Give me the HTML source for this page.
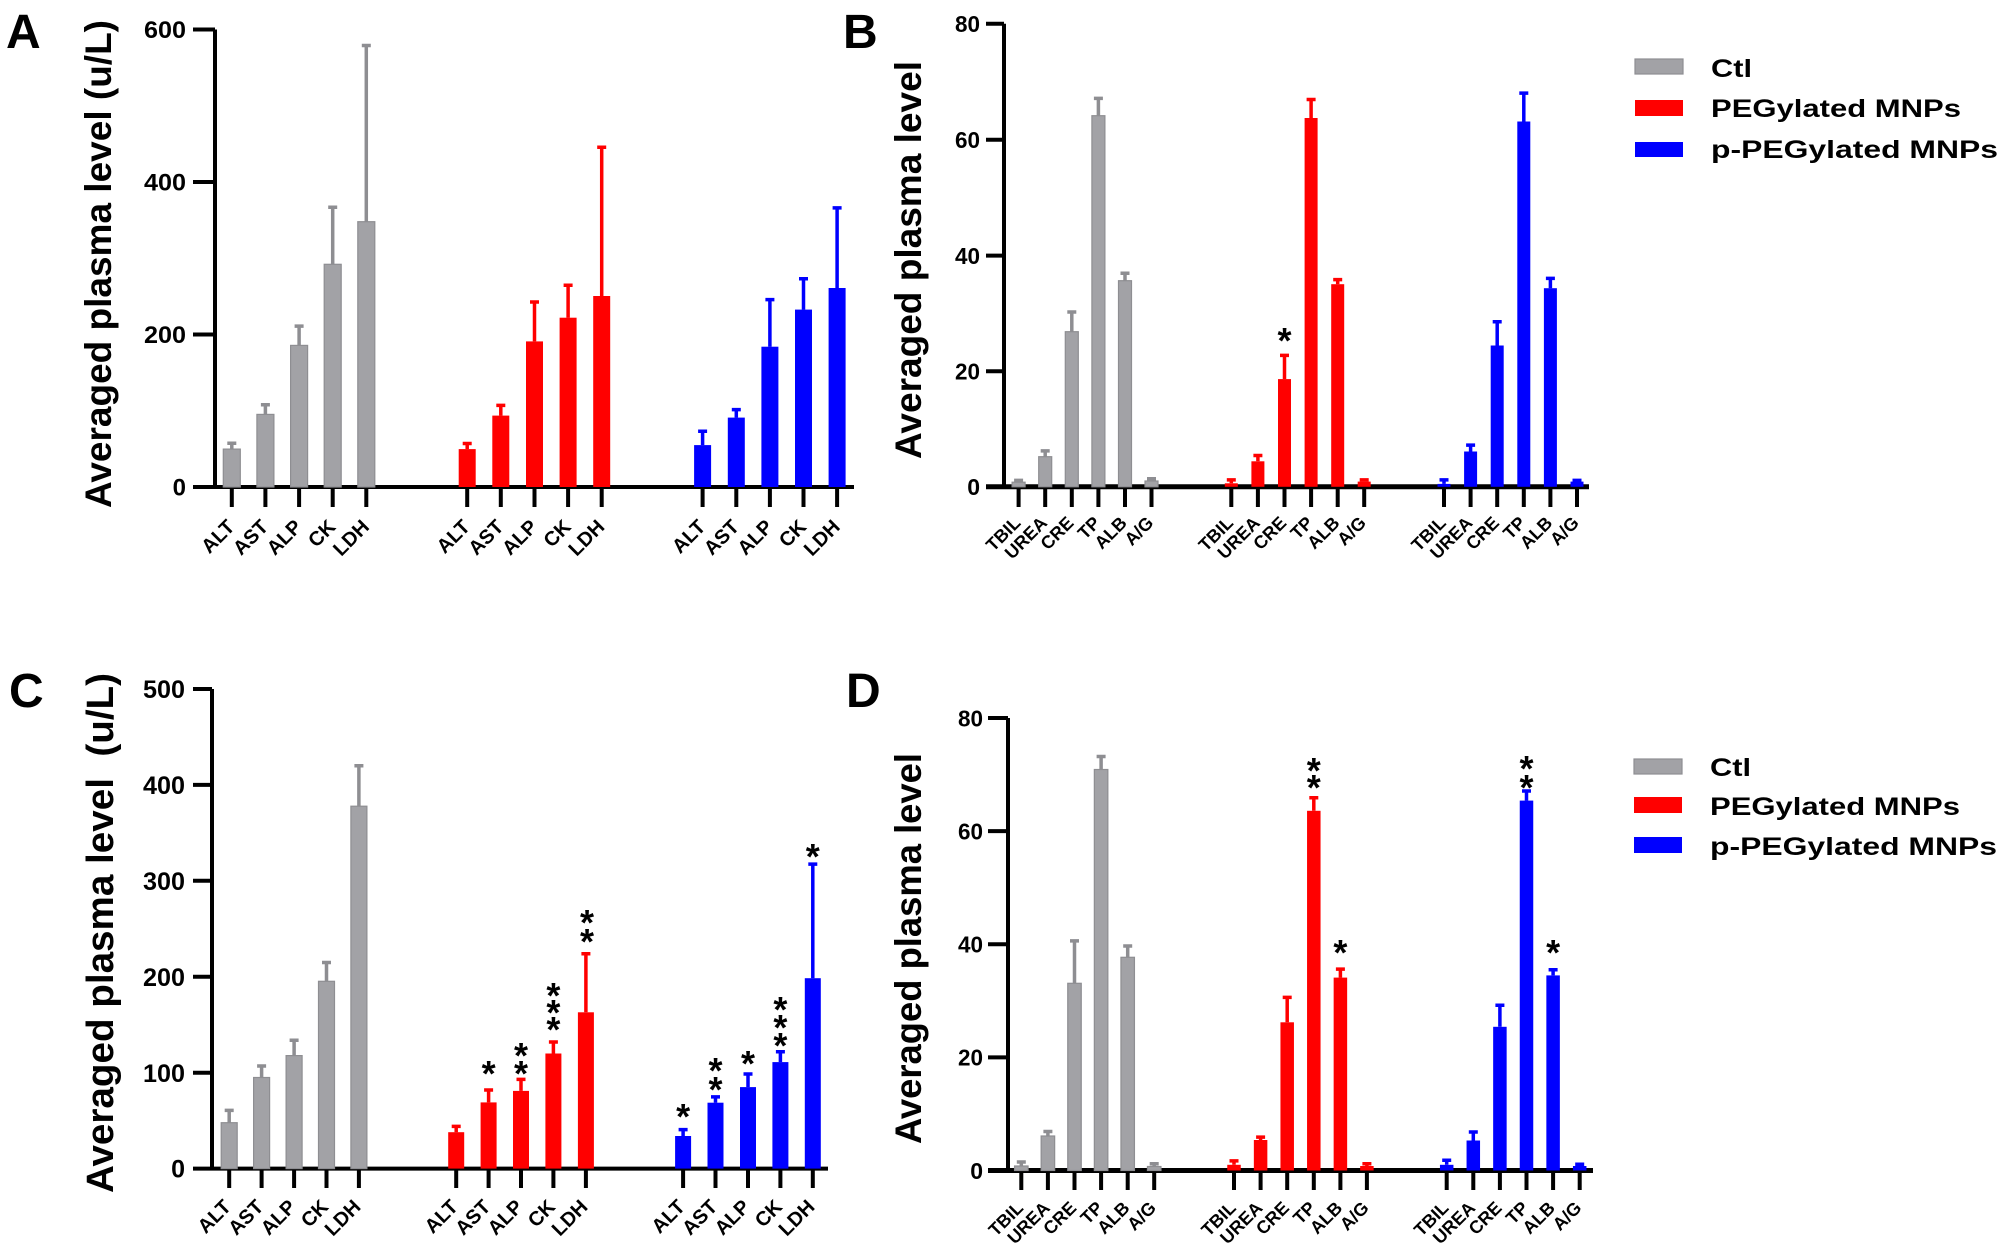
<!DOCTYPE html>
<html>
<head>
<meta charset="utf-8">
<style>
html,body{margin:0;padding:0;background:#fff;}
svg{display:block;}
.t{font-family:"Liberation Sans",Arial,sans-serif;font-weight:bold;fill:#000;}
.g{fill:#a2a2a6;stroke:#8e8e92;stroke-width:1.2;}
.ge{stroke:#8e8e92;stroke-width:3.5;fill:none;}
.re{stroke:#ff0000;stroke-width:3.5;fill:none;}
.be{stroke:#0000ff;stroke-width:3.5;fill:none;}
.ax{stroke:#000;fill:none;}
</style>
</head>
<body>
<svg width="2006" height="1250" viewBox="0 0 2006 1250" xmlns="http://www.w3.org/2000/svg">
<rect width="2006" height="1250" fill="#fff"/>

<!-- Panel letters -->
<text class="t" x="6" y="48" font-size="48">A</text>
<text class="t" x="843" y="48" font-size="48">B</text>
<text class="t" x="9" y="707" font-size="48">C</text>
<text class="t" x="846" y="707" font-size="48">D</text>

<!-- ================= PANEL A ================= -->
<text class="t" font-size="37" text-anchor="middle" transform="translate(111,264) rotate(-90)" textLength="488" lengthAdjust="spacingAndGlyphs">Averaged plasma level (u/L)</text>
<g class="t" font-size="24" text-anchor="end">
<text x="186" y="38" textLength="42" lengthAdjust="spacingAndGlyphs">600</text>
<text x="186" y="190.5" textLength="42" lengthAdjust="spacingAndGlyphs">400</text>
<text x="186" y="343" textLength="42" lengthAdjust="spacingAndGlyphs">200</text>
<text x="186" y="495.5">0</text>
</g>
<path class="ax" stroke-width="4" d="M215 29.5V489M193 29.5H215M193 182H215M193 334.5H215M193 487H854"/>
<path class="ax" stroke-width="4" d="M231.8 487V507M265.4 487V507M299.1 487V507M332.7 487V507M366.3 487V507M467.2 487V507M500.8 487V507M534.5 487V507M568.1 487V507M601.7 487V507M702.6 487V507M736.3 487V507M769.9 487V507M803.5 487V507M837.1 487V507"/>
<g>
<rect class="g" x="223.3" y="449.1" width="17" height="37.9"/>
<rect class="g" x="256.9" y="414.4" width="17" height="72.6"/>
<rect class="g" x="290.6" y="345.4" width="17" height="141.6"/>
<rect class="g" x="324.2" y="264.3" width="17" height="222.7"/>
<rect class="g" x="357.8" y="221.7" width="17" height="265.3"/>
<path class="ge" d="M231.8 449.1V443.2M227.3 443.2h9M265.4 414.4V404.7M260.9 404.7h9M299.1 345.4V326.1M294.6 326.1h9M332.7 264.3V207.2M328.2 207.2h9M366.3 221.7V45.5M361.8 45.5h9"/>
</g>
<g fill="#ff0000">
<rect x="458.7" y="449.1" width="17" height="37.9"/>
<rect x="492.3" y="415.6" width="17" height="71.4"/>
<rect x="526.0" y="341.4" width="17" height="145.6"/>
<rect x="559.6" y="317.7" width="17" height="169.3"/>
<rect x="593.2" y="296.0" width="17" height="191.0"/>
</g>
<path class="re" d="M467.2 449.1V443.5M462.7 443.5h9M500.8 415.6V405.4M496.3 405.4h9M534.5 341.4V302.0M530 302.0h9M568.1 317.7V285.2M563.6 285.2h9M601.7 296.0V147.2M597.2 147.2h9"/>
<g fill="#0000ff">
<rect x="694.1" y="445.1" width="17" height="41.9"/>
<rect x="727.8" y="417.6" width="17" height="69.4"/>
<rect x="761.4" y="346.7" width="17" height="140.3"/>
<rect x="795.0" y="309.6" width="17" height="177.4"/>
<rect x="828.6" y="288.0" width="17" height="199.0"/>
</g>
<path class="be" d="M702.6 445.1V431.3M698.1 431.3h9M736.3 417.6V409.6M731.8 409.6h9M769.9 346.7V299.6M765.4 299.6h9M803.5 309.6V278.8M799 278.8h9M837.1 288.0V207.9M832.6 207.9h9"/>
<g class="t" font-size="20" text-anchor="end">
<text transform="translate(235.8,528) rotate(-45)">ALT</text>
<text transform="translate(269.4,528) rotate(-45)">AST</text>
<text transform="translate(303.1,528) rotate(-45)">ALP</text>
<text transform="translate(336.7,528) rotate(-45)">CK</text>
<text transform="translate(370.3,528) rotate(-45)">LDH</text>
<text transform="translate(471.2,528) rotate(-45)">ALT</text>
<text transform="translate(504.8,528) rotate(-45)">AST</text>
<text transform="translate(538.5,528) rotate(-45)">ALP</text>
<text transform="translate(572.1,528) rotate(-45)">CK</text>
<text transform="translate(605.7,528) rotate(-45)">LDH</text>
<text transform="translate(706.6,528) rotate(-45)">ALT</text>
<text transform="translate(740.3,528) rotate(-45)">AST</text>
<text transform="translate(773.9,528) rotate(-45)">ALP</text>
<text transform="translate(807.5,528) rotate(-45)">CK</text>
<text transform="translate(841.1,528) rotate(-45)">LDH</text>
</g>

<!-- ================= PANEL B ================= -->
<text class="t" font-size="37" text-anchor="middle" transform="translate(921,260) rotate(-90)" textLength="398" lengthAdjust="spacingAndGlyphs">Averaged plasma level</text>
<g class="t" font-size="23" text-anchor="end">
<text x="980" y="32" textLength="25" lengthAdjust="spacingAndGlyphs">80</text>
<text x="980" y="148" textLength="25" lengthAdjust="spacingAndGlyphs">60</text>
<text x="980" y="264" textLength="25" lengthAdjust="spacingAndGlyphs">40</text>
<text x="980" y="379.5" textLength="25" lengthAdjust="spacingAndGlyphs">20</text>
<text x="980" y="495">0</text>
</g>
<path class="ax" stroke-width="4" d="M1004 23.7V489M986 23.7H1004M986 139.7H1004M986 255.6H1004M986 371.2H1004"/>
<path class="ax" stroke-width="5" d="M986 486.8H1589"/>
<path class="ax" stroke-width="4" d="M1018.6 486.8V507M1045.2 486.8V507M1071.8 486.8V507M1098.4 486.8V507M1125 486.8V507M1151.5 486.8V507M1231.3 486.8V507M1257.9 486.8V507M1284.5 486.8V507M1311.1 486.8V507M1337.7 486.8V507M1364.2 486.8V507M1444 486.8V507M1470.6 486.8V507M1497.2 486.8V507M1523.8 486.8V507M1550.4 486.8V507M1577 486.8V507"/>
<g>
<rect class="g" x="1012.1" y="482.2" width="13" height="4.6"/>
<rect class="g" x="1038.7" y="456.7" width="13" height="30.1"/>
<rect class="g" x="1065.3" y="331.7" width="13" height="155.1"/>
<rect class="g" x="1091.9" y="115.7" width="13" height="371.1"/>
<rect class="g" x="1118.5" y="280.7" width="13" height="206.1"/>
<rect class="g" x="1145.0" y="481.0" width="13" height="5.8"/>
<path class="ge" d="M1018.6 482.2V480.4M1014.1 480.4h9M1045.2 456.7V450.9M1040.7 450.9h9M1071.8 331.7V312.0M1067.3 312.0h9M1098.4 115.7V98.4M1093.9 98.4h9M1125 280.7V273.2M1120.5 273.2h9M1151.5 481.0V478.7M1147 478.7h9"/>
</g>
<g fill="#ff0000">
<rect x="1224.8" y="483.3" width="13" height="3.5"/>
<rect x="1251.4" y="461.3" width="13" height="25.5"/>
<rect x="1278.0" y="379.1" width="13" height="107.7"/>
<rect x="1304.6" y="118.0" width="13" height="368.8"/>
<rect x="1331.2" y="284.2" width="13" height="202.6"/>
<rect x="1357.7" y="481.6" width="13" height="5.2"/>
</g>
<path class="re" d="M1231.3 483.3V479.9M1226.8 479.9h9M1257.9 461.3V455.5M1253.4 455.5h9M1284.5 379.1V355.4M1280 355.4h9M1311.1 118.0V99.5M1306.6 99.5h9M1337.7 284.2V279.6M1333.2 279.6h9M1364.2 481.6V479.9M1359.7 479.9h9"/>
<g fill="#0000ff">
<rect x="1437.5" y="483.9" width="13" height="2.9"/>
<rect x="1464.1" y="451.5" width="13" height="35.3"/>
<rect x="1490.7" y="345.5" width="13" height="141.3"/>
<rect x="1517.3" y="121.5" width="13" height="365.3"/>
<rect x="1543.9" y="288.2" width="13" height="198.6"/>
<rect x="1570.5" y="481.6" width="13" height="5.2"/>
</g>
<path class="be" d="M1444 483.9V479.9M1439.5 479.9h9M1470.6 451.5V445.1M1466.1 445.1h9M1497.2 345.5V321.8M1492.7 321.8h9M1523.8 121.5V93.1M1519.3 93.1h9M1550.4 288.2V278.4M1545.9 278.4h9M1577 481.6V480.4M1572.5 480.4h9"/>
<text class="t" font-size="36" text-anchor="middle" x="1284.5" y="353">*</text>
<g class="t" font-size="18" text-anchor="end">
<text transform="translate(1021.6,524) rotate(-45)">TBIL</text>
<text transform="translate(1048.2,524) rotate(-45)">UREA</text>
<text transform="translate(1074.8,524) rotate(-45)">CRE</text>
<text transform="translate(1101.4,524) rotate(-45)">TP</text>
<text transform="translate(1128,524) rotate(-45)">ALB</text>
<text transform="translate(1154.5,524) rotate(-45)">A/G</text>
<text transform="translate(1234.3,524) rotate(-45)">TBIL</text>
<text transform="translate(1260.9,524) rotate(-45)">UREA</text>
<text transform="translate(1287.5,524) rotate(-45)">CRE</text>
<text transform="translate(1314.1,524) rotate(-45)">TP</text>
<text transform="translate(1340.7,524) rotate(-45)">ALB</text>
<text transform="translate(1367.2,524) rotate(-45)">A/G</text>
<text transform="translate(1447,524) rotate(-45)">TBIL</text>
<text transform="translate(1473.6,524) rotate(-45)">UREA</text>
<text transform="translate(1500.2,524) rotate(-45)">CRE</text>
<text transform="translate(1526.8,524) rotate(-45)">TP</text>
<text transform="translate(1553.4,524) rotate(-45)">ALB</text>
<text transform="translate(1580,524) rotate(-45)">A/G</text>
</g>

<!-- Legend top -->
<rect x="1635" y="59" width="48" height="15" fill="#a2a2a6" stroke="#8e8e92" stroke-width="1.2"/>
<rect x="1635" y="100" width="48" height="16" fill="#ff0000"/>
<rect x="1635" y="142" width="48" height="15" fill="#0000ff"/>
<g class="t" font-size="25">
<text x="1711" y="77" textLength="41" lengthAdjust="spacingAndGlyphs">Ctl</text>
<text x="1711" y="117" textLength="250" lengthAdjust="spacingAndGlyphs">PEGylated MNPs</text>
<text x="1711" y="158" textLength="287" lengthAdjust="spacingAndGlyphs">p-PEGylated MNPs</text>
</g>

<!-- ================= PANEL C ================= -->
<text class="t" font-size="38" text-anchor="middle" transform="translate(113,933) rotate(-90)" textLength="520" lengthAdjust="spacingAndGlyphs">Averaged plasma level&#160; (u/L)</text>
<g class="t" font-size="25" text-anchor="end">
<text x="185" y="698" textLength="42" lengthAdjust="spacingAndGlyphs">500</text>
<text x="185" y="794" textLength="42" lengthAdjust="spacingAndGlyphs">400</text>
<text x="185" y="890" textLength="42" lengthAdjust="spacingAndGlyphs">300</text>
<text x="185" y="986" textLength="42" lengthAdjust="spacingAndGlyphs">200</text>
<text x="185" y="1082" textLength="42" lengthAdjust="spacingAndGlyphs">100</text>
<text x="185" y="1177.5">0</text>
</g>
<path class="ax" stroke-width="4" d="M212 689V1170.6M193 689H212M193 784.9H212M193 880.8H212M193 976.7H212M193 1072.7H212M193 1168.6H828"/>
<path class="ax" stroke-width="4" d="M229.2 1168.6V1188M261.6 1168.6V1188M294.1 1168.6V1188M326.5 1168.6V1188M358.9 1168.6V1188M456.2 1168.6V1188M488.6 1168.6V1188M521 1168.6V1188M553.4 1168.6V1188M585.9 1168.6V1188M683.1 1168.6V1188M715.5 1168.6V1188M748 1168.6V1188M780.4 1168.6V1188M812.8 1168.6V1188"/>
<g>
<rect class="g" x="221.2" y="1122.7" width="16" height="45.9"/>
<rect class="g" x="253.6" y="1077.5" width="16" height="91.1"/>
<rect class="g" x="286.1" y="1055.6" width="16" height="113.0"/>
<rect class="g" x="318.5" y="981.3" width="16" height="187.3"/>
<rect class="g" x="350.9" y="806.2" width="16" height="362.4"/>
<path class="ge" d="M229.2 1122.7V1110.4M224.7 1110.4h9M261.6 1077.5V1066.0M257.1 1066.0h9M294.1 1055.6V1040.3M289.6 1040.3h9M326.5 981.3V962.5M322 962.5h9M358.9 806.2V765.7M354.4 765.7h9"/>
</g>
<g fill="#ff0000">
<rect x="448.2" y="1132.2" width="16" height="36.4"/>
<rect x="480.6" y="1102.4" width="16" height="66.2"/>
<rect x="513.0" y="1090.9" width="16" height="77.7"/>
<rect x="545.4" y="1053.5" width="16" height="115.1"/>
<rect x="577.9" y="1012.3" width="16" height="156.3"/>
</g>
<path class="re" d="M456.2 1132.2V1126.4M451.7 1126.4h9M488.6 1102.4V1090.0M484.1 1090.0h9M521 1090.9V1079.4M516.5 1079.4h9M553.4 1053.5V1042.0M548.9 1042.0h9M585.9 1012.3V953.7M581.4 953.7h9"/>
<g fill="#0000ff">
<rect x="675.1" y="1136.0" width="16" height="32.6"/>
<rect x="707.5" y="1102.7" width="16" height="65.9"/>
<rect x="740.0" y="1087.1" width="16" height="81.5"/>
<rect x="772.4" y="1062.1" width="16" height="106.5"/>
<rect x="804.8" y="978.2" width="16" height="190.4"/>
</g>
<path class="be" d="M683.1 1136.0V1129.6M678.6 1129.6h9M715.5 1102.7V1096.9M711 1096.9h9M748 1087.1V1074.0M743.5 1074.0h9M780.4 1062.1V1051.8M775.9 1051.8h9M812.8 978.2V864.1M808.3 864.1h9"/>
<g class="t" font-size="36" text-anchor="middle">
<text x="488.6" y="1086">*</text>
<text x="521" y="1068">*</text><text x="521" y="1086">*</text>
<text x="553.4" y="1008">*</text><text x="553.4" y="1025">*</text><text x="553.4" y="1042">*</text>
<text x="587" y="935">*</text><text x="587" y="954">*</text>
<text x="683.1" y="1129">*</text>
<text x="715.5" y="1083">*</text><text x="715.5" y="1102">*</text>
<text x="748" y="1076">*</text>
<text x="780.4" y="1022">*</text><text x="780.4" y="1040">*</text><text x="780.4" y="1058">*</text>
<text x="812.8" y="869">*</text>
</g>
<g class="t" font-size="20" text-anchor="end">
<text transform="translate(232.2,1208) rotate(-45)">ALT</text>
<text transform="translate(264.6,1208) rotate(-45)">AST</text>
<text transform="translate(297.1,1208) rotate(-45)">ALP</text>
<text transform="translate(329.5,1208) rotate(-45)">CK</text>
<text transform="translate(361.9,1208) rotate(-45)">LDH</text>
<text transform="translate(459.2,1208) rotate(-45)">ALT</text>
<text transform="translate(491.6,1208) rotate(-45)">AST</text>
<text transform="translate(524,1208) rotate(-45)">ALP</text>
<text transform="translate(556.4,1208) rotate(-45)">CK</text>
<text transform="translate(588.9,1208) rotate(-45)">LDH</text>
<text transform="translate(686.1,1208) rotate(-45)">ALT</text>
<text transform="translate(718.5,1208) rotate(-45)">AST</text>
<text transform="translate(751,1208) rotate(-45)">ALP</text>
<text transform="translate(783.4,1208) rotate(-45)">CK</text>
<text transform="translate(815.8,1208) rotate(-45)">LDH</text>
</g>

<!-- ================= PANEL D ================= -->
<text class="t" font-size="37" text-anchor="middle" transform="translate(921,948.5) rotate(-90)" textLength="391" lengthAdjust="spacingAndGlyphs">Averaged plasma level</text>
<g class="t" font-size="23" text-anchor="end">
<text x="983" y="726.5" textLength="25" lengthAdjust="spacingAndGlyphs">80</text>
<text x="983" y="839.5" textLength="25" lengthAdjust="spacingAndGlyphs">60</text>
<text x="983" y="952.5" textLength="25" lengthAdjust="spacingAndGlyphs">40</text>
<text x="983" y="1065.5" textLength="25" lengthAdjust="spacingAndGlyphs">20</text>
<text x="983" y="1179">0</text>
</g>
<path class="ax" stroke-width="4" d="M1008 718V1172.5M988 718H1008M988 831.1H1008M988 944.3H1008M988 1057.4H1008"/>
<path class="ax" stroke-width="5" d="M988 1170.5H1593"/>
<path class="ax" stroke-width="4" d="M1021.3 1170.5V1190M1047.9 1170.5V1190M1074.5 1170.5V1190M1101.1 1170.5V1190M1127.7 1170.5V1190M1154.2 1170.5V1190M1234 1170.5V1190M1260.6 1170.5V1190M1287.2 1170.5V1190M1313.8 1170.5V1190M1340.4 1170.5V1190M1366.9 1170.5V1190M1446.7 1170.5V1190M1473.3 1170.5V1190M1499.9 1170.5V1190M1526.5 1170.5V1190M1553.1 1170.5V1190M1579.7 1170.5V1190"/>
<g>
<rect class="g" x="1014.55" y="1166.0" width="13.5" height="4.5"/>
<rect class="g" x="1041.15" y="1136.0" width="13.5" height="34.5"/>
<rect class="g" x="1067.75" y="983.3" width="13.5" height="187.2"/>
<rect class="g" x="1094.35" y="769.5" width="13.5" height="401.0"/>
<rect class="g" x="1120.95" y="957.3" width="13.5" height="213.2"/>
<rect class="g" x="1147.45" y="1166.5" width="13.5" height="4.0"/>
<path class="ge" d="M1021.3 1166.0V1162.0M1016.8 1162.0h9M1047.9 1136.0V1131.5M1043.4 1131.5h9M1074.5 983.3V940.9M1070 940.9h9M1101.1 769.5V756.5M1096.6 756.5h9M1127.7 957.3V946.0M1123.2 946.0h9M1154.2 1166.5V1163.7M1149.7 1163.7h9"/>
</g>
<g fill="#ff0000">
<rect x="1227.25" y="1164.8" width="13.5" height="5.7"/>
<rect x="1253.85" y="1140.0" width="13.5" height="30.5"/>
<rect x="1280.45" y="1022.3" width="13.5" height="148.2"/>
<rect x="1307.05" y="810.8" width="13.5" height="359.7"/>
<rect x="1333.65" y="977.6" width="13.5" height="192.9"/>
<rect x="1360.15" y="1166.0" width="13.5" height="4.5"/>
</g>
<path class="re" d="M1234 1164.8V1160.9M1229.5 1160.9h9M1260.6 1140.0V1137.1M1256.1 1137.1h9M1287.2 1022.3V997.4M1282.7 997.4h9M1313.8 810.8V797.8M1309.3 797.8h9M1340.4 977.6V969.1M1335.9 969.1h9M1366.9 1166.0V1163.7M1362.4 1163.7h9"/>
<g fill="#0000ff">
<rect x="1439.95" y="1164.8" width="13.5" height="5.7"/>
<rect x="1466.55" y="1140.5" width="13.5" height="30.0"/>
<rect x="1493.15" y="1026.8" width="13.5" height="143.7"/>
<rect x="1519.75" y="800.6" width="13.5" height="369.9"/>
<rect x="1546.35" y="975.4" width="13.5" height="195.1"/>
<rect x="1572.95" y="1166.0" width="13.5" height="4.5"/>
</g>
<path class="be" d="M1446.7 1164.8V1160.3M1442.2 1160.3h9M1473.3 1140.5V1132.0M1468.8 1132.0h9M1499.9 1026.8V1005.3M1495.4 1005.3h9M1526.5 800.6V791.0M1522 791.0h9M1553.1 975.4V969.7M1548.6 969.7h9M1579.7 1166.0V1164.3M1575.2 1164.3h9"/>
<g class="t" font-size="36" text-anchor="middle">
<text x="1313.8" y="783">*</text><text x="1313.8" y="800">*</text>
<text x="1340.4" y="965">*</text>
<text x="1526.5" y="781">*</text><text x="1526.5" y="800">*</text>
<text x="1553.1" y="965">*</text>
</g>
<g class="t" font-size="18" text-anchor="end">
<text transform="translate(1024.3,1209) rotate(-45)">TBIL</text>
<text transform="translate(1050.9,1209) rotate(-45)">UREA</text>
<text transform="translate(1077.5,1209) rotate(-45)">CRE</text>
<text transform="translate(1104.1,1209) rotate(-45)">TP</text>
<text transform="translate(1130.7,1209) rotate(-45)">ALB</text>
<text transform="translate(1157.2,1209) rotate(-45)">A/G</text>
<text transform="translate(1237,1209) rotate(-45)">TBIL</text>
<text transform="translate(1263.6,1209) rotate(-45)">UREA</text>
<text transform="translate(1290.2,1209) rotate(-45)">CRE</text>
<text transform="translate(1316.8,1209) rotate(-45)">TP</text>
<text transform="translate(1343.4,1209) rotate(-45)">ALB</text>
<text transform="translate(1369.9,1209) rotate(-45)">A/G</text>
<text transform="translate(1449.7,1209) rotate(-45)">TBIL</text>
<text transform="translate(1476.3,1209) rotate(-45)">UREA</text>
<text transform="translate(1502.9,1209) rotate(-45)">CRE</text>
<text transform="translate(1529.5,1209) rotate(-45)">TP</text>
<text transform="translate(1556.1,1209) rotate(-45)">ALB</text>
<text transform="translate(1582.7,1209) rotate(-45)">A/G</text>
</g>

<!-- Legend bottom -->
<rect x="1634" y="759" width="48" height="15" fill="#a2a2a6" stroke="#8e8e92" stroke-width="1.2"/>
<rect x="1634" y="797" width="48" height="16" fill="#ff0000"/>
<rect x="1634" y="837" width="48" height="16" fill="#0000ff"/>
<g class="t" font-size="25">
<text x="1710" y="776" textLength="41" lengthAdjust="spacingAndGlyphs">Ctl</text>
<text x="1710" y="815" textLength="250" lengthAdjust="spacingAndGlyphs">PEGylated MNPs</text>
<text x="1710" y="855" textLength="287" lengthAdjust="spacingAndGlyphs">p-PEGylated MNPs</text>
</g>
</svg>
</body>
</html>
